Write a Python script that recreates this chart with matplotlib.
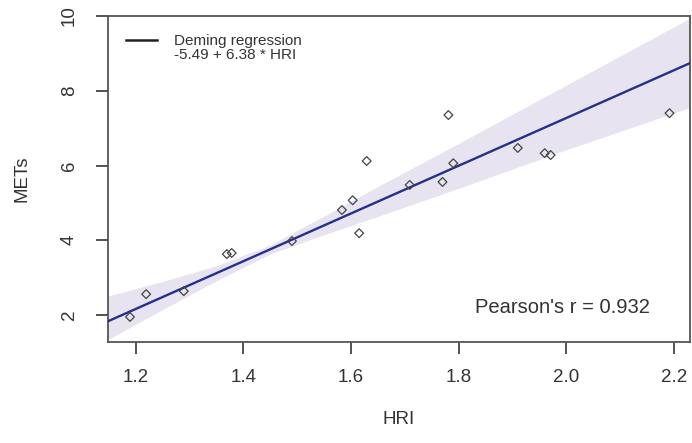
import numpy as np
import matplotlib.pyplot as plt
from matplotlib.lines import Line2D

plt.rcParams['font.family'] = ['Liberation Sans', 'DejaVu Sans']

# data
hri = [1.189, 1.219, 1.289, 1.369, 1.378, 1.490, 1.583, 1.603, 1.615, 1.629,
       1.709, 1.770, 1.781, 1.790, 1.910, 1.960, 1.971, 2.192]
mets = [1.95, 2.56, 2.64, 3.63, 3.66, 3.98, 4.81, 5.07, 4.19, 6.12,
        5.48, 5.56, 7.35, 6.06, 6.47, 6.33, 6.28, 7.40]

intercept = -5.49
slope = 6.38
pearson_r = 0.932

# confidence band
band_x = [1.148, 1.25, 1.35, 1.45, 1.55, 1.65, 1.80, 2.00, 2.23]
band_lo = [1.35, 2.15, 2.92, 3.64, 4.15, 4.64, 5.39, 6.42, 7.55]
band_hi = [2.51, 2.90, 3.32, 3.88, 4.65, 5.44, 6.59, 8.15, 9.94]

xlim = (1.148, 2.230)
ylim = (1.28, 10.0)

fig = plt.figure(figsize=(6.92, 4.43), dpi=100)
ax = fig.add_axes([0.156, 0.228, 0.841, 0.736])

ax.fill_between(band_x, band_lo, band_hi, color='#e7e3f0', lw=0, zorder=1)
xs = np.array(xlim)
ax.plot(xs, intercept + slope * xs, color='#25308c', lw=1.7, zorder=3)
ax.scatter(hri, mets, marker='D', s=20, facecolors='none', edgecolors='#444444',
           linewidths=0.9, zorder=4)

ax.set_xlim(xlim)
ax.set_ylim(ylim)
ax.set_xticks([1.2, 1.4, 1.6, 1.8, 2.0, 2.2])
ax.set_xticklabels(['1.2', '1.4', '1.6', '1.8', '2.0', '2.2'])
ax.set_yticks([2, 4, 6, 8, 10])
ax.set_yticklabels(['2', '4', '6', '8', '10'], rotation=90, va='center')
ax.tick_params(axis='both', direction='out', length=8.5, width=1.3, color='#444444',
               labelsize=13.5, labelcolor='#333333')
ax.tick_params(axis='x', pad=11)
ax.tick_params(axis='y', pad=13)
for s in ax.spines.values():
    s.set_color('#555555')
    s.set_linewidth(1.3)

ax.set_xlabel('HRI', fontsize=13.5, color='#333333', labelpad=18)
ax.set_ylabel('METs', fontsize=13.5, color='#333333', labelpad=22)

handles = [Line2D([], [], color='#222222', lw=1.8),
           Line2D([], [], color='none')]
labels = ['Deming regression', '%.2f + %.2f * HRI' % (intercept, slope)]
ax.legend(handles, labels, loc='upper left', frameon=False, fontsize=11,
          handlelength=2.0, handletextpad=1.1, labelspacing=0.0,
          borderaxespad=0.8, labelcolor='#333333')

ax.text(0.931, 0.107, "Pearson's r = %.3f" % pearson_r, transform=ax.transAxes,
        ha='right', va='center', fontsize=14.5, color='#333333')

fig.savefig('out.png', dpi=100)
